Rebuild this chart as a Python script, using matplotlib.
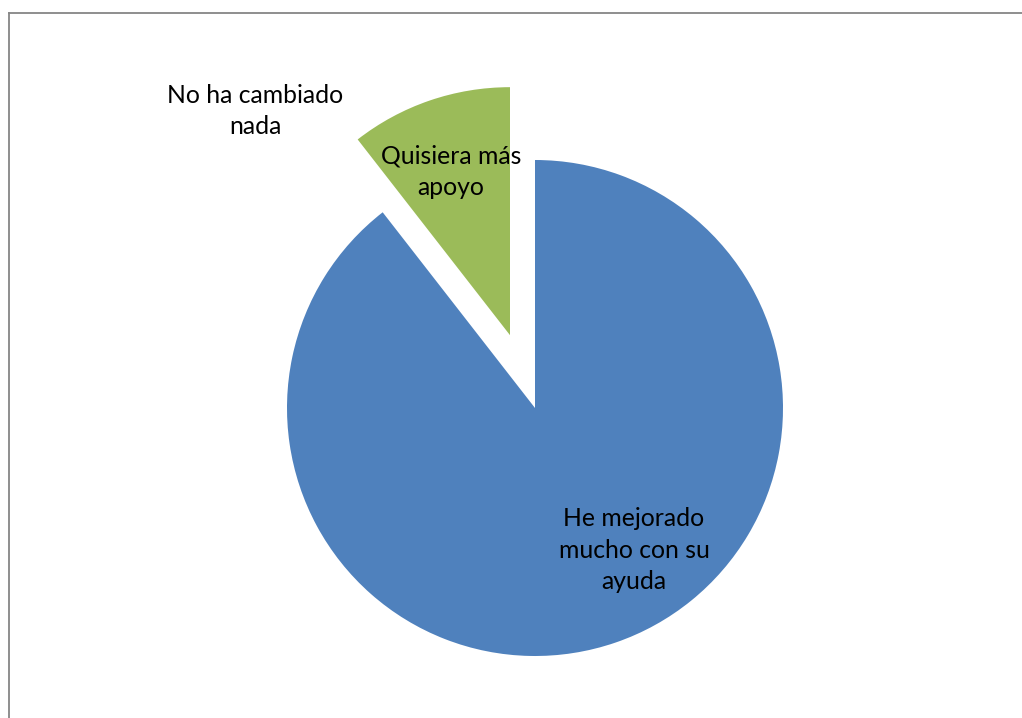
import matplotlib.pyplot as plt
from matplotlib.lines import Line2D

# datos del gráfico
categorias = ["He mejorado mucho con su ayuda", "Quisiera más apoyo", "No ha cambiado nada"]
valores = [17, 2, 0]
colores = ["#4F81BD", "#9BBB59", "#8064A2"]
separacion = [0, 77, 0]  # en píxeles (mismas unidades que el radio)

fig = plt.figure(figsize=(10.22, 7.18), dpi=100)
ax = fig.add_axes([0, 0, 1, 1])

ax.pie(valores, colors=colores, explode=separacion, startangle=90, counterclock=False,
       center=(535, 310), radius=248, frame=True)
ax.set_xlim(0, 1022)
ax.set_ylim(0, 718)
ax.set_aspect('equal')
ax.set_axis_off()

fuente = dict(family='Lato', size=17.8, ha='center', va='center', linespacing=1.45, color='black')
ax.text(634, 168, "He mejorado\nmucho con su\nayuda", **fuente)
ax.text(451, 546, "Quisiera más\napoyo", **fuente)
ax.text(255, 607, "No ha cambiado\nnada", **fuente)

# borde del área del gráfico
fig.add_artist(Line2D([8.5 / 1022, 8.5 / 1022], [0, 1 - 12.5 / 718], color='#868686', lw=1.3))
fig.add_artist(Line2D([8.5 / 1022, 1], [1 - 12.5 / 718, 1 - 12.5 / 718], color='#868686', lw=1.3))

fig.savefig('out.png', dpi=100)
